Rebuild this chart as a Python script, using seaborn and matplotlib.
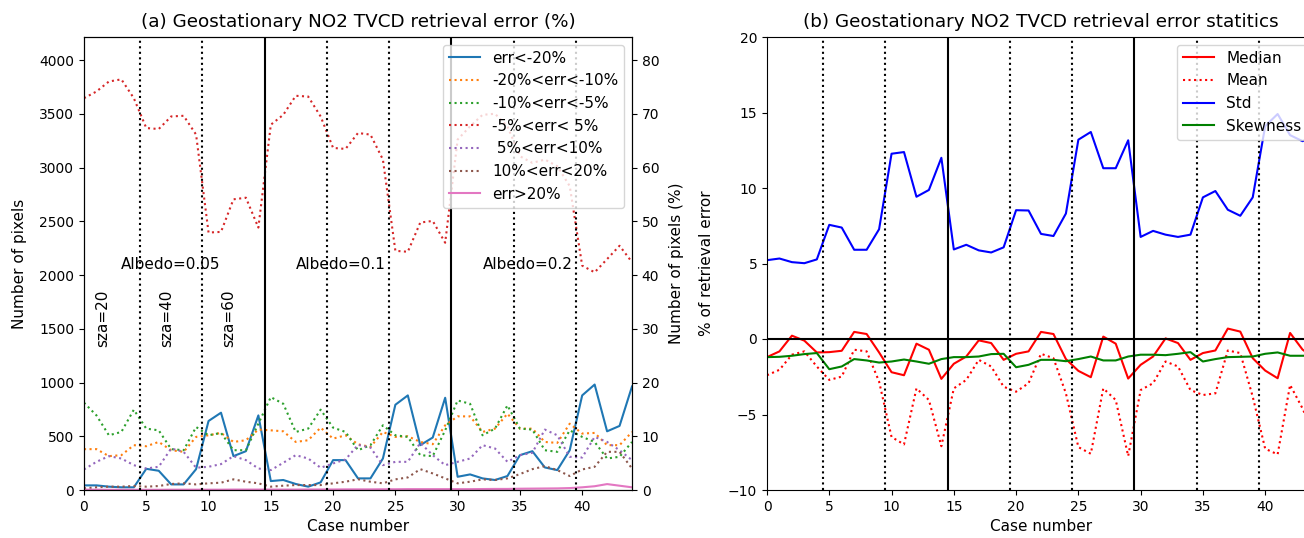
import numpy as np
import matplotlib
matplotlib.use("Agg")
import matplotlib.pyplot as plt
import seaborn as sns

# ---------------------------------------------------------------------------
# dados (45 casos)
# ---------------------------------------------------------------------------
cases = np.arange(45)

err_lt_m20 = [43, 43, 31, 25, 25, 197, 179, 52, 52, 194,
              642, 719, 315, 361, 694, 83, 93, 56, 31, 71,
              278, 278, 108, 108, 293, 793, 880, 417, 488, 858,
              123, 145, 108, 93, 130, 324, 361, 210, 185, 370,
              880, 981, 546, 596, 963]
err_m20_m10 = [380, 380, 315, 324, 417, 407, 447, 370, 355, 494,
               509, 531, 447, 463, 562, 555, 546, 447, 463, 580,
               478, 509, 425, 401, 540, 494, 500, 447, 426, 602,
               685, 685, 540, 571, 710, 571, 571, 447, 438, 617,
               525, 531, 417, 417, 540]
err_m10_m5 = [812, 694, 509, 540, 747, 571, 555, 380, 370, 586,
              509, 531, 370, 370, 617, 864, 802, 540, 571, 747,
              580, 540, 370, 417, 602, 509, 494, 324, 315, 555,
              833, 802, 509, 571, 787, 571, 562, 370, 355, 555,
              494, 447, 293, 309, 447]
err_m5_p5 = [3645, 3707, 3800, 3820, 3645, 3367, 3358, 3475, 3481, 3306,
             2395, 2401, 2704, 2719, 2441, 3398, 3490, 3667, 3660, 3475,
             3182, 3173, 3321, 3306, 3074, 2225, 2216, 2488, 2503, 2300,
             3260, 3383, 3490, 3500, 3383, 3105, 3043, 3074, 3012, 2827,
             2087, 2025, 2148, 2272, 2120]
err_p5_p10 = [191, 262, 315, 293, 231, 200, 216, 386, 355, 207,
              216, 241, 315, 278, 200, 185, 253, 324, 293, 207,
              247, 284, 420, 395, 231, 262, 262, 438, 324, 231,
              262, 293, 417, 386, 262, 324, 346, 562, 509, 309,
              302, 494, 447, 370, 278]
err_p10_p20 = [15, 25, 31, 31, 37, 31, 37, 56, 62, 52,
               62, 68, 99, 77, 62, 31, 40, 46, 46, 46,
               62, 77, 100, 77, 62, 99, 117, 194, 154, 108,
               62, 77, 99, 93, 108, 148, 194, 222, 185, 130,
               191, 216, 355, 355, 200]
err_gt_p20 = [3, 3, 2, 2, 2, 2, 2, 3, 3, 3,
              3, 3, 4, 4, 4, 4, 4, 4, 5, 5,
              5, 6, 6, 6, 7, 7, 8, 8, 8, 8,
              8, 8, 9, 10, 10, 12, 13, 14, 15, 18,
              25, 35, 55, 40, 25]

median = [-1.2, -0.82, 0.22, -0.11, -0.89, -0.87, -0.78, 0.47, 0.33, -0.89,
          -2.2, -2.4, -0.31, -0.71, -2.64, -1.64, -1.16, -0.09, -0.27, -1.38,
          -0.98, -0.82, 0.47, 0.33, -1.33, -2.11, -2.53, 0.16, -0.31, -2.62,
          -1.71, -1.16, 0.04, -0.27, -1.38, -0.93, -0.76, 0.69, 0.49, -1.27,
          -2.09, -2.6, 0.4, -0.7, -1.3]
mean = [-2.4, -2.04, -1.04, -0.82, -1.82, -2.71, -2.49, -0.71, -0.82, -2.82,
        -6.49, -6.98, -3.27, -4.04, -7.1, -3.27, -2.71, -1.38, -1.82, -3.16,
        -3.49, -2.93, -0.98, -1.27, -3.6, -7.16, -7.6, -3.27, -4.04, -7.75,
        -3.38, -2.93, -1.49, -1.82, -3.38, -3.71, -3.6, -0.76, -0.93, -3.82,
        -7.27, -7.64, -3.04, -4.6, -6.5]
std = [5.22, 5.33, 5.09, 5.02, 5.27, 7.56, 7.38, 5.91, 5.91, 7.27,
       12.27, 12.38, 9.42, 9.87, 12.0, 5.93, 6.24, 5.87, 5.73, 6.07,
       8.53, 8.51, 6.96, 6.82, 8.31, 13.2, 13.71, 11.31, 11.31, 13.16,
       6.76, 7.16, 6.91, 6.76, 6.91, 9.38, 9.8, 8.56, 8.16, 9.38,
       14.1, 14.9, 13.5, 13.1, 13.4]
skewness = [-1.2, -1.18, -1.11, -1.0, -0.93, -2.0, -1.82, -1.33, -1.42, -1.56,
            -1.49, -1.36, -1.49, -1.64, -1.33, -1.2, -1.2, -1.16, -1.0, -0.98,
            -1.87, -1.71, -1.38, -1.38, -1.47, -1.33, -1.16, -1.42, -1.42, -1.16,
            -1.04, -1.04, -1.07, -0.98, -0.87, -1.49, -1.33, -1.2, -1.18, -1.16,
            -0.98, -0.89, -1.11, -1.11, -1.1]

left_series = [
    ("err<-20%", err_lt_m20, "-"),
    ("-20%<err<-10%", err_m20_m10, ":"),
    ("-10%<err<-5%", err_m10_m5, ":"),
    ("-5%<err< 5%", err_m5_p5, ":"),
    (" 5%<err<10%", err_p5_p10, ":"),
    ("10%<err<20%", err_p10_p20, ":"),
    ("err>20%", err_gt_p20, "-"),
]
right_series = [
    ("Median", median, "red", "-"),
    ("Mean", mean, "red", ":"),
    ("Std", std, "blue", "-"),
    ("Skewness", skewness, "green", "-"),
]

TOTAL_PIXELS = 5000          # 100 % no eixo da direita
dotted_bounds = [4.5, 9.5, 19.5, 24.5, 34.5, 39.5]
solid_bounds = [14.5, 29.5]

plt.rcParams["font.family"] = "DejaVu Sans"
plt.rcParams["font.size"] = 11
plt.rcParams["xtick.labelsize"] = 10
plt.rcParams["ytick.labelsize"] = 10
PALETTE = sns.color_palette("tab10")

fig = plt.figure(figsize=(13.04, 5.38), dpi=100)
ax1 = fig.add_axes([84 / 1304, 48 / 538, 548 / 1304, 453 / 538])
ax3 = fig.add_axes([767 / 1304, 48 / 538, 548 / 1304, 453 / 538])


def _case_bounds(ax):
    for xb in dotted_bounds:
        ax.axvline(xb, color="black", linestyle=":", linewidth=1.5)
    for xb in solid_bounds:
        ax.axvline(xb, color="black", linestyle="-", linewidth=1.5)


# ---------------------------------------------------------------------------
# (a) numero de pixels por faixa de erro
# ---------------------------------------------------------------------------
for i, (name, vals, ls) in enumerate(left_series):
    sns.lineplot(x=cases, y=vals, ax=ax1, color=PALETTE[i], linestyle=ls,
                 linewidth=1.5, label=name)
_case_bounds(ax1)

ymax = 4214
ax1.set_xlim(0, 44)
ax1.set_ylim(0, ymax)
ax1.set_xticks(range(0, 45, 5))
ax1.set_xlabel("Case number")
ax1.set_ylabel("Number of pixels", labelpad=9)
ax1.set_title("(a) Geostationary NO2 TVCD retrieval error (%)", pad=7)
ax1.legend(loc="upper right")

ax2 = ax1.twinx()
ax2.set_ylim(0, ymax / TOTAL_PIXELS * 100)
ax2.set_ylabel("Number of pixels (%)", labelpad=7)

for xt, label in [(3, "Albedo=0.05"), (17, "Albedo=0.1"), (32, "Albedo=0.2")]:
    ax1.text(xt, 2100, label, ha="left", va="center")
for xt, label in [(1.5, "sza=20"), (6.6, "sza=40"), (11.6, "sza=60")]:
    ax1.text(xt, 1600, label, rotation=90, ha="center", va="center")

# ---------------------------------------------------------------------------
# (b) estatisticas do erro
# ---------------------------------------------------------------------------
for name, vals, color, ls in right_series:
    sns.lineplot(x=cases, y=vals, ax=ax3, color=color, linestyle=ls,
                 linewidth=1.5, label=name)
_case_bounds(ax3)
ax3.axhline(0, color="black", linewidth=1.5)

ax3.set_xlim(0, 44)
ax3.set_ylim(-10, 20)
ax3.set_xticks(range(0, 45, 5))
ax3.set_yticks(range(-10, 21, 5))
ax3.set_xlabel("Case number")
ax3.set_ylabel("% of retrieval error", labelpad=10)
ax3.set_title("(b) Geostationary NO2 TVCD retrieval error statitics", pad=7)
ax3.legend(loc="upper right")

fig.savefig("out.png", dpi=100)
plt.close(fig)
